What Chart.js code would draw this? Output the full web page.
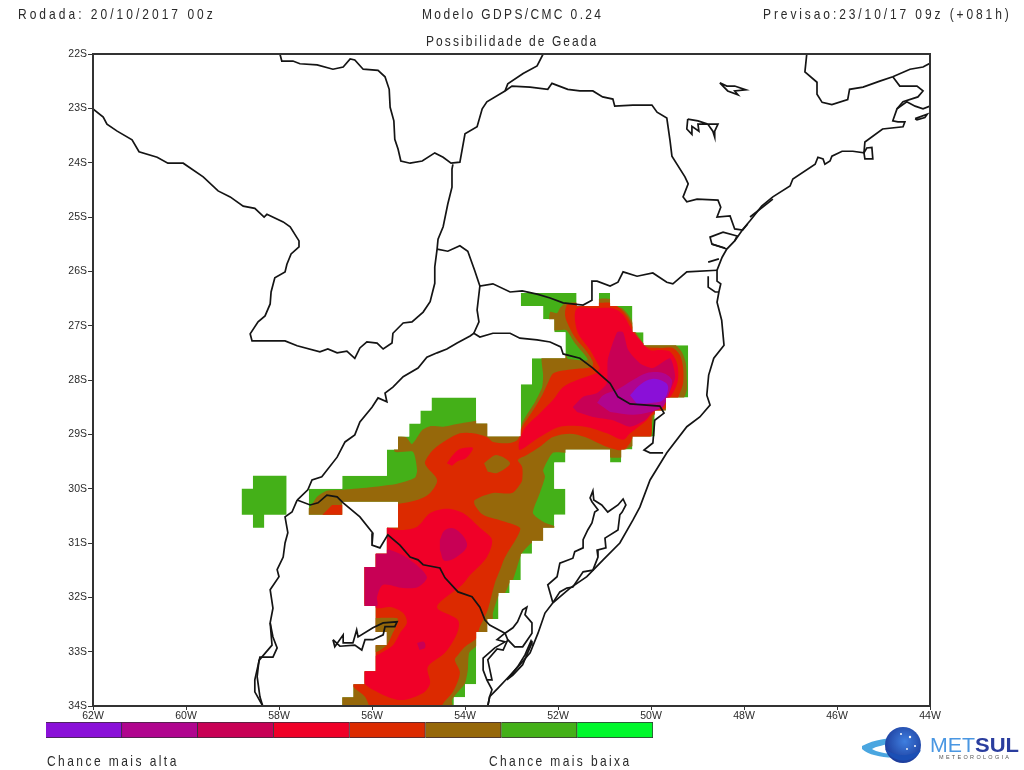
<!DOCTYPE html>
<html>
<head>
<meta charset="utf-8">
<title>Possibilidade de Geada</title>
<script src="https://cdn.jsdelivr.net/npm/chart.js@4"></script>
<style>
    html, body { margin: 0; padding: 0; background: #fff; }
    #page { position: relative; width: 1024px; height: 770px; overflow: hidden; }
    canvas { position: absolute; display: block; }
    #map { left: 0; top: 0; }
    #scale { left: 46px; top: 722px; }
    .lbl { position: absolute; white-space: pre; color: #2a2a2a; font-family: "Liberation Sans", sans-serif; font-size: 15px; line-height: 18px; transform: scaleX(0.8); transform-origin: left top; }
    #logo { position: absolute; left: 855px; top: 722px; }
</style>
</head>
<body>
<div id="page">
    <canvas id="map" width="1024" height="770"></canvas>
    <canvas id="scale" width="607" height="16"></canvas>
    <div class="lbl" style="left:18px;top:5px;letter-spacing:3.77px">Rodada: 20/10/2017 00z</div>
    <div class="lbl" style="left:422px;top:5px;letter-spacing:2.96px">Modelo GDPS/CMC 0.24</div>
    <div class="lbl" style="left:763px;top:5px;letter-spacing:3.63px">Previsao:23/10/17 09z (+081h)</div>
    <div class="lbl" style="left:426px;top:32px;letter-spacing:2.59px">Possibilidade de Geada</div>
    <div class="lbl" style="left:47px;top:752px;letter-spacing:3.05px">Chance mais alta</div>
    <div class="lbl" style="left:489px;top:752px;letter-spacing:2.97px">Chance mais baixa</div>
    <svg id="logo" width="169" height="46" viewBox="0 0 169 46">
        <defs>
            <radialGradient id="globe" cx="0.55" cy="0.4" r="0.7">
                <stop offset="0" stop-color="#3f7fe0"/>
                <stop offset="1" stop-color="#16308f"/>
            </radialGradient>
        </defs>
        <path d="M7 24 C20 17 34 16 42 16 L42 21 C30 22 20 25 17 27 C24 32 46 34 66 29 C50 39 18 37 7 27 Z" fill="#4aa6e0"/>
        <circle cx="48" cy="23" r="18" fill="url(#globe)"/>
        <path d="M30 27 C40 35 55 35 66 28 C60 41 38 43 30 27 Z" fill="#1b4fb5"/>
        <circle cx="55" cy="15" r="1.2" fill="#fff"/><circle cx="60" cy="24" r="1" fill="#fff"/><circle cx="46" cy="12" r="1" fill="#fff"/><circle cx="52" cy="27" r="0.9" fill="#fff"/>
        <text x="75" y="30" font-family="Liberation Sans" font-size="21" textLength="45" lengthAdjust="spacingAndGlyphs" fill="#4a97e2">MET</text>
        <text x="120" y="30" font-family="Liberation Sans" font-weight="bold" font-size="21" textLength="44" lengthAdjust="spacingAndGlyphs" fill="#2a3d9e">SUL</text>
        <text x="84" y="37" font-family="Liberation Sans" font-size="5.5" textLength="70" fill="#555">METEOROLOGIA</text>
    </svg>
</div>
<script>
// Axis ticks
const lonTicks = [-62, -60, -58, -56, -54, -52, -50, -48, -46, -44];
const latTicks = [-34, -33, -32, -31, -30, -29, -28, -27, -26, -25, -24, -23, -22];

// Colour scale, highest chance first
const levelColors = ['#8a10d8', '#b0058e', '#c80055', '#f00028', '#dc2a00', '#96680a', '#44b018', '#00f82c'];
const levelSteps = [1, 1, 1, 1, 1, 1, 1, 1];

// Outer edge of the frost field, follows the 0.24 degree model grid
const fieldMask = [[-52.8,-26.4],[-51.6,-26.4],[-51.6,-26.64],[-51.12,-26.64],[-51.12,-26.4],[-50.88,-26.4],[-50.88,-26.64],[-50.4,-26.64],[-50.4,-27.12],[-50.16,-27.12],[-50.16,-27.36],[-49.2,-27.36],[-49.2,-28.32],[-49.68,-28.32],[-49.68,-28.56],[-49.92,-28.56],[-49.92,-29.04],[-50.4,-29.04],[-50.4,-29.28],[-50.64,-29.28],[-50.64,-29.52],[-50.88,-29.52],[-50.88,-29.28],[-51.84,-29.28],[-51.84,-29.52],[-52.08,-29.52],[-52.08,-30.0],[-51.84,-30.0],[-51.84,-30.48],[-52.08,-30.48],[-52.08,-30.72],[-52.32,-30.72],[-52.32,-30.96],[-52.56,-30.96],[-52.56,-31.2],[-52.8,-31.2],[-52.8,-31.68],[-53.04,-31.68],[-53.04,-31.92],[-53.28,-31.92],[-53.28,-32.4],[-53.52,-32.4],[-53.52,-32.64],[-53.76,-32.64],[-53.76,-33.6],[-54.0,-33.6],[-54.0,-33.84],[-54.24,-33.84],[-54.24,-34.0],[-56.64,-34.0],[-56.64,-33.84],[-56.4,-33.84],[-56.4,-33.6],[-56.16,-33.6],[-56.16,-33.36],[-55.92,-33.36],[-55.92,-32.88],[-55.68,-32.88],[-55.68,-32.64],[-55.92,-32.64],[-55.92,-32.16],[-56.16,-32.16],[-56.16,-31.44],[-55.92,-31.44],[-55.92,-31.2],[-55.68,-31.2],[-55.68,-30.72],[-55.44,-30.72],[-55.44,-30.24],[-56.64,-30.24],[-56.64,-30.48],[-57.36,-30.48],[-57.36,-30.0],[-56.64,-30.0],[-56.64,-29.76],[-55.68,-29.76],[-55.68,-29.28],[-55.44,-29.28],[-55.44,-29.04],[-55.2,-29.04],[-55.2,-28.8],[-54.96,-28.8],[-54.96,-28.56],[-54.72,-28.56],[-54.72,-28.32],[-53.76,-28.32],[-53.76,-28.8],[-53.52,-28.8],[-53.52,-29.04],[-52.8,-29.04],[-52.8,-28.08],[-52.56,-28.08],[-52.56,-27.6],[-51.84,-27.6],[-51.84,-27.12],[-52.08,-27.12],[-52.08,-26.88],[-52.32,-26.88],[-52.32,-26.64],[-52.8,-26.64]];
const westBlob = [[-58.56,-29.76],[-57.84,-29.76],[-57.84,-30.48],[-58.32,-30.48],[-58.32,-30.72],[-58.56,-30.72],[-58.56,-30.48],[-58.8,-30.48],[-58.8,-30.0],[-58.56,-30.0]];

// Contours of the field
const brownArea = [[-57.44,-30.58],[-57.44,-30.39],[-57.33,-30.34],[-57.18,-30.15],[-56.97,-30.04],[-56.62,-30.02],[-55.98,-29.97],[-55.46,-29.91],[-55.08,-29.80],[-55.03,-29.66],[-55.12,-29.32],[-55.51,-29.32],[-55.51,-29.05],[-55.27,-29.05],[-55.14,-29.18],[-54.92,-28.92],[-54.75,-28.85],[-54.47,-28.86],[-54.17,-28.81],[-53.89,-28.77],[-53.68,-28.74],[-53.42,-28.83],[-53.42,-28.92],[-52.82,-28.92],[-52.77,-28.79],[-52.67,-28.64],[-52.49,-28.40],[-52.34,-28.13],[-52.32,-27.91],[-52.34,-27.54],[-51.83,-27.54],[-51.79,-27.61],[-51.36,-27.63],[-51.64,-27.32],[-51.83,-27.08],[-52.17,-27.08],[-52.17,-26.75],[-52.02,-26.77],[-51.96,-26.68],[-51.83,-26.58],[-51.60,-26.60],[-51.16,-26.60],[-51.14,-26.51],[-50.88,-26.51],[-50.86,-26.62],[-50.62,-26.68],[-50.49,-26.80],[-50.39,-26.95],[-50.35,-27.08],[-50.24,-27.23],[-50.15,-27.32],[-49.53,-27.32],[-49.34,-27.48],[-49.25,-27.69],[-49.23,-28.00],[-49.23,-28.18],[-49.31,-28.37],[-49.59,-28.64],[-49.92,-28.64],[-49.98,-28.83],[-50.00,-29.10],[-50.35,-29.20],[-50.62,-29.32],[-50.62,-29.42],[-50.90,-29.42],[-50.90,-29.34],[-51.83,-29.34],[-52.11,-29.34],[-52.32,-29.66],[-52.28,-29.78],[-52.39,-30.08],[-52.54,-30.45],[-52.32,-30.61],[-52.00,-30.72],[-52.00,-30.80],[-52.26,-31.00],[-52.56,-31.00],[-52.77,-31.18],[-52.88,-31.44],[-52.97,-31.68],[-53.03,-31.72],[-53.14,-31.92],[-53.27,-31.96],[-53.40,-32.29],[-53.40,-32.42],[-53.47,-32.69],[-53.68,-32.69],[-53.74,-32.88],[-53.91,-33.02],[-53.94,-33.34],[-54.00,-33.58],[-54.15,-33.74],[-54.28,-33.89],[-54.28,-34.07],[-56.80,-34.07],[-56.37,-32.78],[-56.26,-31.31],[-55.83,-30.58],[-55.48,-30.30],[-56.58,-30.30],[-56.58,-30.58]];
const darkRedArea = [[-55.55,-30.30],[-55.03,-30.21],[-54.75,-30.08],[-54.60,-29.84],[-54.82,-29.60],[-54.86,-29.51],[-54.69,-29.29],[-54.39,-29.10],[-54.11,-28.98],[-53.83,-28.98],[-53.53,-29.05],[-53.40,-29.14],[-53.03,-29.16],[-52.86,-29.09],[-52.77,-28.86],[-52.56,-28.59],[-52.34,-28.28],[-52.22,-28.06],[-52.09,-27.87],[-51.68,-27.80],[-51.27,-27.76],[-51.25,-27.67],[-51.38,-27.48],[-51.64,-27.21],[-51.81,-26.93],[-51.85,-26.77],[-51.79,-26.60],[-51.60,-26.58],[-51.10,-26.58],[-50.88,-26.58],[-50.67,-26.68],[-50.52,-26.82],[-50.41,-26.99],[-50.30,-27.21],[-50.15,-27.38],[-49.81,-27.41],[-49.53,-27.41],[-49.38,-27.54],[-49.31,-27.76],[-49.31,-28.06],[-49.38,-28.24],[-49.45,-28.37],[-49.81,-28.59],[-49.98,-28.66],[-49.98,-28.86],[-50.02,-29.05],[-50.39,-29.07],[-50.45,-29.16],[-50.60,-29.29],[-50.88,-29.25],[-51.14,-29.16],[-51.42,-29.05],[-51.74,-28.99],[-52.11,-29.05],[-52.39,-29.23],[-52.67,-29.38],[-52.86,-29.47],[-52.77,-29.60],[-52.77,-29.84],[-52.80,-29.90],[-52.99,-30.08],[-53.40,-30.08],[-53.79,-30.21],[-53.79,-30.30],[-53.61,-30.48],[-53.25,-30.58],[-52.82,-30.72],[-52.88,-30.89],[-53.14,-31.26],[-53.25,-31.50],[-53.36,-31.74],[-53.51,-32.23],[-53.61,-32.42],[-53.68,-32.54],[-53.72,-32.66],[-53.74,-32.75],[-54.00,-32.91],[-54.15,-33.06],[-54.22,-33.15],[-54.11,-33.39],[-54.26,-33.74],[-54.49,-33.98],[-54.49,-34.07],[-55.98,-34.07],[-56.15,-33.83],[-56.39,-33.66],[-56.47,-33.52],[-56.26,-32.97],[-56.26,-31.40],[-55.78,-30.67]];
const darkRedWest = [[-57.18,-30.58],[-56.86,-30.30],[-56.58,-30.30],[-56.58,-30.58]];
const brownIsland = [[-53.59,-29.53],[-53.33,-29.38],[-53.03,-29.53],[-53.31,-29.71],[-53.51,-29.69]];
const brownLake = [[-56.04,-32.38],[-55.46,-32.38],[-55.44,-32.45],[-55.57,-32.69],[-55.68,-32.88],[-55.89,-33.00],[-56.04,-33.00]];
const redBlob = [[-54.39,-29.53],[-54.26,-29.38],[-54.11,-29.27],[-53.83,-29.25],[-53.98,-29.44],[-54.15,-29.49],[-54.28,-29.58]];
const redSouth = [[-55.83,-30.67],[-55.40,-30.76],[-55.03,-30.70],[-54.75,-30.45],[-54.39,-30.37],[-54.04,-30.45],[-53.68,-30.72],[-53.42,-30.94],[-53.53,-31.26],[-53.89,-31.59],[-54.06,-31.77],[-54.60,-32.18],[-54.15,-32.42],[-54.17,-32.66],[-54.43,-33.02],[-54.80,-33.28],[-54.75,-33.58],[-54.90,-33.76],[-55.40,-33.89],[-55.98,-33.70],[-56.20,-33.52],[-56.04,-33.15],[-55.89,-33.06],[-55.76,-33.00],[-55.55,-32.88],[-55.40,-32.66],[-55.25,-32.47],[-55.33,-32.29],[-55.61,-32.18],[-55.89,-32.20],[-56.26,-32.05],[-56.26,-31.31]];
const redNorth = [[-51.16,-27.87],[-51.59,-28.00],[-51.89,-28.13],[-52.11,-28.37],[-52.39,-28.61],[-52.71,-28.88],[-52.84,-29.16],[-52.82,-29.29],[-52.39,-29.05],[-51.96,-28.86],[-51.42,-28.86],[-50.95,-28.98],[-50.60,-29.10],[-50.45,-28.98],[-50.09,-28.74],[-49.96,-28.59],[-49.74,-28.46],[-49.53,-28.24],[-49.42,-28.00],[-49.44,-27.69],[-49.59,-27.48],[-49.81,-27.45],[-50.02,-27.45],[-50.24,-27.26],[-50.41,-27.08],[-50.60,-26.80],[-50.82,-26.68],[-51.25,-26.68],[-51.59,-26.68],[-51.64,-26.84],[-51.57,-27.14],[-51.31,-27.45],[-51.10,-27.78]];
const crimsonNorth = [[-51.68,-28.50],[-51.46,-28.31],[-51.16,-28.24],[-50.95,-28.06],[-50.93,-27.63],[-50.73,-27.12],[-50.60,-27.12],[-50.49,-27.45],[-50.24,-27.69],[-49.96,-27.78],[-49.59,-27.60],[-49.48,-27.94],[-49.63,-28.28],[-49.74,-28.50],[-49.96,-28.59],[-50.13,-28.74],[-50.45,-28.86],[-50.82,-28.74],[-51.25,-28.68],[-51.59,-28.59]];
const crimsonCentre = [[-54.54,-30.94],[-54.43,-30.76],[-54.22,-30.74],[-53.96,-31.00],[-54.06,-31.18],[-54.43,-31.33],[-54.54,-31.13]];
const crimsonWest = [[-56.26,-32.23],[-55.89,-32.16],[-55.89,-31.99],[-55.76,-31.77],[-55.33,-31.83],[-55.01,-31.81],[-54.82,-31.62],[-55.23,-31.28],[-55.61,-31.13],[-55.72,-31.13],[-56.26,-31.31]];
const crimsonDot = [[-55.03,-32.84],[-54.88,-32.82],[-54.86,-32.93],[-54.98,-32.97]];
const magentaCore = [[-51.16,-28.42],[-51.03,-28.28],[-50.73,-28.18],[-50.39,-28.00],[-50.09,-27.87],[-49.74,-27.87],[-49.55,-28.00],[-49.63,-28.28],[-49.74,-28.48],[-50.02,-28.59],[-50.39,-28.64],[-50.88,-28.59]];
const purpleCore = [[-50.45,-28.28],[-50.24,-28.09],[-49.98,-27.98],[-49.70,-28.04],[-49.63,-28.15],[-49.74,-28.37],[-49.96,-28.42],[-50.30,-28.44]];

// Borders and coast
const paraguayWest = [[-62.00,-23.01],[-61.78,-23.16],[-61.70,-23.29],[-61.48,-23.42],[-61.16,-23.58],[-61.01,-23.80],[-60.62,-23.90],[-60.39,-24.01],[-60.06,-24.01],[-59.63,-24.26],[-59.31,-24.52],[-59.05,-24.63],[-58.77,-24.80],[-58.52,-24.84],[-58.32,-25.00],[-58.26,-24.95],[-57.91,-25.09],[-57.76,-25.18],[-57.57,-25.44],[-57.57,-25.55],[-57.74,-25.68],[-57.83,-25.87],[-57.87,-26.01],[-58.09,-26.12],[-58.17,-26.38],[-58.19,-26.60],[-58.30,-26.82],[-58.45,-26.93],[-58.62,-27.15],[-58.58,-27.28],[-58.24,-27.28],[-57.87,-27.28],[-57.61,-27.37],[-57.12,-27.48],[-56.95,-27.43],[-56.75,-27.50],[-56.54,-27.47],[-56.37,-27.60],[-56.26,-27.41],[-56.11,-27.30],[-55.89,-27.32],[-55.76,-27.43],[-55.57,-27.32],[-55.55,-27.14],[-55.33,-26.95],[-55.14,-26.93],[-54.90,-26.75],[-54.75,-26.56],[-54.65,-26.22],[-54.65,-25.92],[-54.60,-25.59],[-54.58,-25.41],[-54.47,-25.18],[-54.37,-24.76],[-54.28,-24.45],[-54.28,-24.12],[-54.26,-24.03]];
const northBorder = [[-57.98,-22.00],[-57.94,-22.13],[-57.70,-22.13],[-57.55,-22.18],[-57.18,-22.20],[-56.84,-22.28],[-56.62,-22.24],[-56.47,-22.09],[-56.37,-22.11],[-56.19,-22.28],[-55.87,-22.30],[-55.72,-22.42],[-55.63,-22.65],[-55.61,-22.98],[-55.53,-23.23],[-55.51,-23.57],[-55.44,-23.75],[-55.38,-23.97],[-55.18,-24.01],[-54.92,-23.97],[-54.65,-23.82],[-54.47,-23.90],[-54.30,-24.01],[-54.11,-23.99],[-54.00,-23.47],[-53.74,-23.34],[-53.63,-23.01],[-53.53,-22.88],[-53.14,-22.68],[-52.99,-22.59],[-52.60,-22.61],[-52.22,-22.65],[-52.13,-22.54],[-51.79,-22.65],[-51.53,-22.68],[-51.25,-22.68],[-51.04,-22.79],[-50.82,-22.83],[-50.78,-22.96],[-50.39,-22.94],[-49.98,-22.94],[-49.87,-23.07],[-49.66,-23.18],[-49.59,-23.60],[-49.55,-23.88],[-49.27,-24.26],[-49.20,-24.39],[-49.31,-24.63],[-49.23,-24.72],[-49.01,-24.67],[-48.56,-24.69],[-48.50,-24.82],[-48.58,-25.00],[-48.30,-24.98],[-48.20,-25.22],[-48.03,-25.24],[-47.92,-25.13]];
const parana = [[-52.32,-22.00],[-52.45,-22.22],[-52.75,-22.36],[-53.08,-22.55],[-53.14,-22.68]];
const santaCatarinaNorth = [[-54.60,-25.59],[-54.37,-25.63],[-54.11,-25.53],[-53.94,-25.63],[-53.79,-25.99],[-53.68,-26.27],[-53.40,-26.23],[-53.03,-26.38],[-52.77,-26.36],[-52.45,-26.42],[-52.17,-26.49],[-51.89,-26.58],[-51.46,-26.62],[-51.27,-26.53],[-51.27,-26.18],[-51.16,-26.18],[-50.88,-26.27],[-50.71,-26.20],[-50.60,-26.01],[-50.30,-26.09],[-49.96,-26.03],[-49.66,-26.20],[-49.53,-26.23],[-49.23,-26.01],[-48.58,-25.98]];
const misiones = [[-53.68,-26.27],[-53.74,-26.71],[-53.70,-26.93],[-53.81,-27.14]];
const uruguayRiver = [[-57.61,-30.21],[-57.38,-30.02],[-57.29,-29.84],[-57.08,-29.78],[-56.75,-29.42],[-56.58,-29.14],[-56.37,-29.01],[-56.26,-28.77],[-56.00,-28.50],[-55.87,-28.33],[-55.68,-28.40],[-55.72,-28.24],[-55.55,-28.13],[-55.33,-27.94],[-55.01,-27.78],[-54.82,-27.58],[-54.60,-27.50],[-54.39,-27.43],[-54.17,-27.32],[-53.89,-27.19],[-53.81,-27.14],[-53.68,-27.21],[-53.40,-27.14],[-53.03,-27.14],[-52.82,-27.23],[-52.45,-27.26],[-52.17,-27.30],[-51.94,-27.39],[-51.89,-27.52],[-51.53,-27.60],[-51.25,-27.78],[-50.88,-28.06],[-50.71,-28.31],[-50.45,-28.44],[-49.81,-28.48],[-49.72,-28.61],[-49.92,-28.74],[-49.96,-29.16],[-50.15,-29.29],[-50.02,-29.34],[-49.74,-29.34]];
const uruguayNorth = [[-57.61,-30.21],[-57.33,-30.30],[-57.16,-30.26],[-56.97,-30.12],[-56.75,-30.15],[-56.62,-30.26],[-56.26,-30.52],[-55.98,-30.82],[-56.00,-31.04],[-55.83,-31.09],[-55.66,-30.85],[-55.40,-31.04],[-55.18,-31.26],[-55.01,-31.31],[-54.90,-31.40],[-54.54,-31.46],[-54.43,-31.64],[-54.15,-31.90],[-53.85,-31.99],[-53.68,-32.18],[-53.57,-32.42],[-53.47,-32.51],[-53.14,-32.66]];
const uruguayWest = [[-57.61,-30.21],[-57.72,-30.43],[-57.87,-30.52],[-57.81,-30.81],[-57.87,-31.00],[-57.91,-31.26],[-58.04,-31.49],[-58.00,-31.62],[-58.19,-31.86],[-58.13,-32.20],[-58.19,-32.47],[-58.13,-32.73],[-58.04,-32.93],[-58.13,-33.10],[-58.41,-33.10],[-58.52,-33.52],[-58.52,-33.74],[-58.35,-34.00]];
const uruguayWest2 = [[-58.19,-32.47],[-58.15,-32.88],[-58.43,-33.16],[-58.47,-33.46],[-58.41,-33.83],[-58.35,-34.00]];
const bonete = [[-56.84,-32.78],[-56.80,-32.91],[-56.62,-32.69],[-56.62,-32.84],[-56.41,-32.84],[-56.33,-32.60],[-56.30,-32.73],[-55.98,-32.56],[-55.76,-32.47],[-55.46,-32.45],[-55.51,-32.54],[-55.72,-32.54],[-55.76,-32.69],[-55.98,-32.78],[-56.15,-32.78],[-56.22,-32.97],[-56.37,-32.88],[-56.69,-32.90],[-56.84,-32.78]];
const mirim = [[-53.14,-32.66],[-52.97,-32.56],[-52.87,-32.45],[-52.76,-32.23],[-52.67,-32.18],[-52.71,-32.32],[-52.56,-32.47],[-52.56,-32.66],[-52.76,-32.91],[-52.93,-32.91],[-53.08,-32.78],[-53.14,-32.66]];
const mirimSouth = [[-53.14,-32.66],[-53.31,-32.78],[-53.14,-32.82],[-53.36,-32.93],[-53.61,-33.12],[-53.61,-33.34],[-53.53,-33.52],[-53.42,-33.70],[-53.47,-33.83],[-53.51,-34.00]];
const mirimInner = [[-53.08,-32.78],[-53.18,-32.97],[-53.31,-32.95],[-53.51,-33.15],[-53.42,-33.52],[-53.53,-33.52]];
const patos = [[-52.11,-32.10],[-52.22,-31.77],[-52.02,-31.62],[-51.96,-31.37],[-51.68,-31.28],[-51.64,-31.16],[-51.46,-31.09],[-51.46,-30.94],[-51.36,-30.76],[-51.27,-30.63],[-51.21,-30.43],[-51.14,-30.39],[-51.27,-30.24],[-51.31,-30.17],[-51.25,-30.04],[-51.23,-30.21],[-51.06,-30.30],[-50.93,-30.43],[-50.71,-30.30],[-50.60,-30.19],[-50.54,-30.30],[-50.62,-30.43],[-50.67,-30.48],[-50.71,-30.76],[-50.99,-30.91],[-50.97,-31.09],[-51.16,-31.13],[-51.14,-31.26],[-51.25,-31.50],[-51.46,-31.53],[-51.68,-31.81],[-51.81,-31.83],[-51.96,-31.90],[-52.11,-32.10]];
const mangueira = [[-53.10,-33.52],[-52.87,-33.28],[-52.71,-33.06],[-52.58,-32.80],[-52.56,-32.84],[-52.65,-33.02],[-52.76,-33.24],[-52.97,-33.43],[-53.10,-33.52]];
const coast = [[-53.51,-34.00],[-53.47,-33.83],[-53.29,-33.67],[-53.08,-33.48],[-52.82,-33.24],[-52.60,-33.02],[-52.43,-32.66],[-52.28,-32.29],[-52.11,-32.10],[-51.96,-31.99],[-51.74,-31.83],[-51.38,-31.62],[-51.03,-31.31],[-50.67,-31.00],[-50.39,-30.58],[-50.24,-30.34],[-50.02,-29.84],[-49.66,-29.34],[-49.23,-28.86],[-48.95,-28.68],[-48.73,-28.46],[-48.80,-28.28],[-48.76,-27.91],[-48.65,-27.60],[-48.43,-27.36],[-48.48,-26.90],[-48.58,-26.57],[-48.54,-26.38],[-48.50,-26.23],[-48.58,-26.18],[-48.58,-25.98],[-48.47,-25.74],[-48.37,-25.59],[-48.20,-25.44],[-48.02,-25.22],[-47.87,-25.07],[-47.62,-24.80],[-47.38,-24.63],[-47.01,-24.43],[-46.95,-24.30],[-46.47,-24.03],[-46.41,-23.90],[-46.30,-23.93],[-46.26,-24.03],[-46.15,-23.97],[-46.11,-23.88],[-45.89,-23.79],[-45.66,-23.79],[-45.42,-23.82],[-45.40,-23.62],[-45.02,-23.38],[-44.58,-23.34],[-44.54,-23.25],[-44.69,-23.25],[-44.80,-23.23],[-44.71,-23.01],[-44.50,-22.88],[-44.32,-22.96],[-44.15,-23.01],[-44.00,-22.96]];
const paranagua = [[-48.37,-25.59],[-48.69,-25.50],[-48.73,-25.37],[-48.45,-25.28],[-48.15,-25.35],[-48.20,-25.44]];
const paranaguaInner = [[-48.69,-25.50],[-48.41,-25.57]];
const guaratuba = [[-48.77,-25.83],[-48.54,-25.77]];
const scIsland = [[-48.77,-26.09],[-48.77,-26.29],[-48.62,-26.38],[-48.54,-26.38]];
const iguape = [[-47.87,-25.00],[-47.38,-24.67]];
const sebastiao = [[-45.42,-23.82],[-45.36,-23.73],[-45.25,-23.72],[-45.23,-23.93],[-45.40,-23.93],[-45.42,-23.82]];
const saoPauloNorth = [[-46.65,-22.00],[-46.69,-22.33],[-46.43,-22.52],[-46.43,-22.74],[-46.32,-22.89],[-46.11,-22.93],[-45.77,-22.84],[-45.73,-22.65],[-45.44,-22.61],[-45.08,-22.50],[-44.80,-22.42],[-44.43,-22.28],[-44.15,-22.24],[-44.00,-22.17]];
const rioBranch = [[-44.80,-22.42],[-44.65,-22.59],[-44.28,-22.59],[-44.15,-22.68],[-44.26,-22.79],[-44.58,-22.88],[-44.71,-23.01]];
const ilhaGrande = [[-44.32,-23.19],[-44.06,-23.11],[-44.11,-23.17],[-44.28,-23.21],[-44.32,-23.19]];
const reservoirA = [[-48.52,-22.53],[-48.37,-22.59],[-48.20,-22.59],[-47.96,-22.66],[-48.20,-22.68],[-48.13,-22.75],[-48.35,-22.68],[-48.52,-22.53]];
const reservoirB = [[-49.21,-23.20],[-48.99,-23.23],[-48.78,-23.29],[-48.56,-23.29],[-48.63,-23.42],[-48.63,-23.53],[-48.67,-23.42],[-48.78,-23.29],[-48.99,-23.29],[-48.97,-23.42],[-49.12,-23.33],[-49.12,-23.48],[-49.23,-23.38],[-49.21,-23.20]];

const fieldLayers = [
    { points: fieldMask, color: levelColors[6], tension: 0 },
    { points: brownArea, color: levelColors[5], tension: 0.2 },
    { points: darkRedArea, color: levelColors[4], tension: 0.3 },
    { points: darkRedWest, color: levelColors[4], tension: 0 },
    { points: brownIsland, color: levelColors[5], tension: 0.3 },
    { points: brownLake, color: levelColors[5], tension: 0.2 },
    { points: redBlob, color: levelColors[3], tension: 0.3 },
    { points: redSouth, color: levelColors[3], tension: 0.3 },
    { points: redNorth, color: levelColors[3], tension: 0.3 },
    { points: crimsonNorth, color: levelColors[2], tension: 0.2 },
    { points: crimsonCentre, color: levelColors[2], tension: 0.4 },
    { points: crimsonWest, color: levelColors[2], tension: 0.3 },
    { points: crimsonDot, color: levelColors[2], tension: 0.4 },
    { points: magentaCore, color: levelColors[1], tension: 0.3 },
    { points: purpleCore, color: levelColors[0], tension: 0.4 }
];

const mapLines = [paraguayWest, northBorder, parana, santaCatarinaNorth, misiones, uruguayRiver, uruguayNorth, uruguayWest, uruguayWest2, bonete, mirim, mirimSouth, mirimInner, patos, mangueira, coast, paranagua, paranaguaInner, guaratuba, scIsland, iguape, sebastiao, saoPauloNorth, rioBranch, ilhaGrande, reservoirA, reservoirB];

const toXY = pts => pts.map(p => ({ x: p[0], y: p[1] }));

const fieldDatasets = fieldLayers.map(l => ({
    data: toXY(l.points),
    showLine: true,
    fill: 'shape',
    backgroundColor: l.color,
    borderColor: 'transparent',
    borderWidth: 0,
    pointRadius: 0,
    tension: l.tension
}));

const blobDataset = {
    data: toXY(westBlob),
    showLine: true,
    fill: 'shape',
    backgroundColor: levelColors[6],
    borderColor: 'transparent',
    borderWidth: 0,
    pointRadius: 0
};

const lineDatasets = mapLines.map(line => ({
    data: toXY(line),
    showLine: true,
    fill: false,
    borderColor: '#141414',
    borderWidth: 1.7,
    pointRadius: 0,
    tension: 0
}));

// first dataset has to be painted first
const allDatasets = [...fieldDatasets, blobDataset, ...lineDatasets];
allDatasets.forEach((d, i) => { d.order = allDatasets.length - i; });

// Contours stop at the blocky model grid edge
const maskClip = {
    id: 'maskClip',
    beforeDatasetsDraw(chart) {
        const { ctx, scales } = chart;
        ctx.save();
        ctx.beginPath();
        fieldMask.forEach((p, i) => {
            const px = scales.x.getPixelForValue(p[0]);
            const py = scales.y.getPixelForValue(p[1]);
            if (i === 0) ctx.moveTo(px, py);
            else ctx.lineTo(px, py);
        });
        ctx.closePath();
        ctx.clip();
    },
    afterDatasetDraw(chart, args) {
        if (args.index === fieldLayers.length - 1) chart.ctx.restore();
    }
};

const frameBox = {
    id: 'frameBox',
    afterDatasetsDraw(chart) {
        const { ctx, chartArea } = chart;
        ctx.save();
        ctx.strokeStyle = '#333';
        ctx.lineWidth = 2;
        ctx.strokeRect(chartArea.left, chartArea.top, chartArea.right - chartArea.left, chartArea.bottom - chartArea.top);
        ctx.restore();
    }
};

const tickFont = { family: '"Liberation Sans", sans-serif', size: 10.5 };

new Chart(document.getElementById('map'), {
    type: 'scatter',
    data: { datasets: allDatasets },
    plugins: [maskClip, frameBox],
    options: {
        responsive: false,
        animation: false,
        events: [],
        devicePixelRatio: 1,
        layout: { padding: { top: 54, right: 94, left: 0, bottom: 0 } },
        plugins: { legend: { display: false }, tooltip: { enabled: false } },
        scales: {
            x: {
                type: 'linear',
                min: -62,
                max: -44,
                afterBuildTicks: s => { s.ticks = lonTicks.map(v => ({ value: v })); },
                afterFit: s => { s.height = 64; },
                grid: { drawOnChartArea: false, tickLength: 4, tickColor: '#333', tickWidth: 1 },
                border: { display: false },
                ticks: {
                    autoSkip: false,
                    maxRotation: 0,
                    padding: 0,
                    color: '#2a2a2a',
                    font: tickFont,
                    callback: v => Math.abs(v) + 'W'
                }
            },
            y: {
                type: 'linear',
                min: -34,
                max: -22,
                afterBuildTicks: s => { s.ticks = latTicks.map(v => ({ value: v })); },
                afterFit: s => { s.width = 93; },
                grid: { drawOnChartArea: false, tickLength: 5, tickColor: '#333', tickWidth: 1 },
                border: { display: false },
                ticks: {
                    autoSkip: false,
                    padding: 1,
                    color: '#2a2a2a',
                    font: tickFont,
                    callback: v => Math.abs(v) + 'S'
                }
            }
        }
    }
});

// Colour bar below the map
new Chart(document.getElementById('scale'), {
    type: 'bar',
    data: {
        labels: [''],
        datasets: levelColors.map((c, i) => ({
            data: [levelSteps[i]],
            backgroundColor: c,
            borderColor: '#3a2a3a',
            borderWidth: 1,
            barPercentage: 1,
            categoryPercentage: 1
        }))
    },
    options: {
        indexAxis: 'y',
        responsive: false,
        animation: false,
        events: [],
        devicePixelRatio: 1,
        layout: { padding: 0 },
        plugins: { legend: { display: false }, tooltip: { enabled: false } },
        scales: {
            x: { display: false, stacked: true, min: 0, max: levelSteps.length },
            y: { display: false, stacked: true }
        }
    }
});
</script>
</body>
</html>
